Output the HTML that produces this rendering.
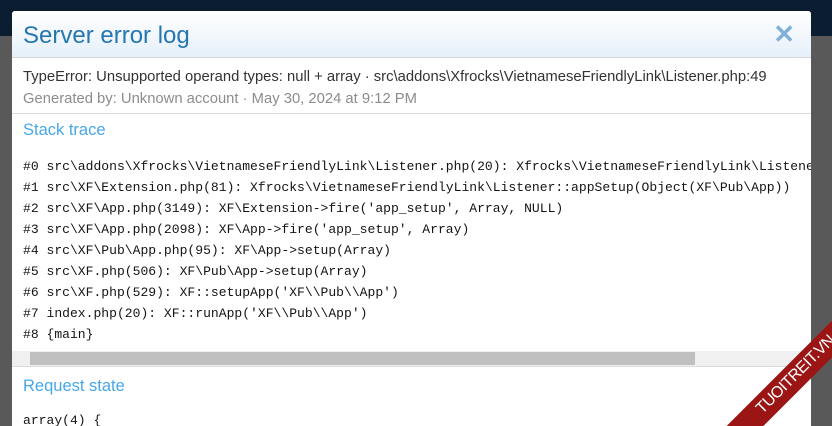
<!DOCTYPE html><html><head><style>
html,body{margin:0;width:832px;height:426px;overflow:hidden}
body{background:#595959;position:relative;font-family:"Liberation Sans",sans-serif}
.top{position:absolute;left:0;top:0;width:832px;height:36px;background:#0b1d31}
.panel{position:absolute;left:12px;top:11px;width:799px;height:415px;background:#fff;border-radius:3px 3px 0 0;overflow:hidden}
.hd{height:46px;border-bottom:1px solid #d8d8d8;background:linear-gradient(#fff,#e6f0fa)}
.hd .t{position:absolute;left:11px;top:11px;font-size:24px;color:#2577b1}
.hd .x{position:absolute;right:16px;top:8px;font-size:26px;color:#7fb0d9;font-weight:bold}
.info{position:absolute;left:11px;top:55px;font-size:14.8px;line-height:22px;color:#333;white-space:nowrap}
.info .g{color:#8c8c8c}
.d1{position:absolute;left:0;top:102px;width:100%;border-top:1px solid #dcdcdc}
.h{position:absolute;left:11px;font-size:16.5px;color:#47a7eb}
pre{position:absolute;left:11px;top:145px;margin:0;font-family:"Liberation Mono",monospace;font-size:13.05px;line-height:21px;color:#141414;white-space:pre}
.sb{position:absolute;left:0;top:340px;width:100%;height:15px;background:#f0f0f0;border-bottom:1px solid #dcdcdc}
.sb div{position:absolute;left:18px;top:1px;width:665px;height:13px;background:#c0c0c0}
.clip{position:absolute;left:600px;top:250px;width:232px;height:176px;overflow:hidden}
.rib{position:absolute;left:96px;top:112px;width:200px;height:26px;background:#9b1515;transform:rotate(-45deg);color:#fff;font-size:16px;text-align:center;line-height:26px;letter-spacing:-.5px}
</style></head><body>
<div class="top"></div>
<div class="panel">
<div class="hd"><div class="t">Server error log</div><div class="x">✕</div></div>
<div class="info">TypeError: Unsupported operand types: null + array · src\addons\Xfrocks\VietnameseFriendlyLink\Listener.php:49<br><span class="g">Generated by: Unknown account · May 30, 2024 at 9:12 PM</span></div>
<div class="d1"></div>
<div class="h" style="top:110px">Stack trace</div>
<pre>#0 src\addons\Xfrocks\VietnameseFriendlyLink\Listener.php(20): Xfrocks\VietnameseFriendlyLink\Listener::setupMetadata()
#1 src\XF\Extension.php(81): Xfrocks\VietnameseFriendlyLink\Listener::appSetup(Object(XF\Pub\App))
#2 src\XF\App.php(3149): XF\Extension-&gt;fire('app_setup', Array, NULL)
#3 src\XF\App.php(2098): XF\App-&gt;fire('app_setup', Array)
#4 src\XF\Pub\App.php(95): XF\App-&gt;setup(Array)
#5 src\XF.php(506): XF\Pub\App-&gt;setup(Array)
#6 src\XF.php(529): XF::setupApp('XF\\Pub\\App')
#7 index.php(20): XF::runApp('XF\\Pub\\App')
#8 {main}</pre>
<div class="sb"><div></div></div>
<div class="h" style="top:366px">Request state</div>
<pre style="top:399px">array(4) {</pre>
</div>
<div class="clip"><div class="rib">TUOITREIT.VN</div></div>
</body></html>
